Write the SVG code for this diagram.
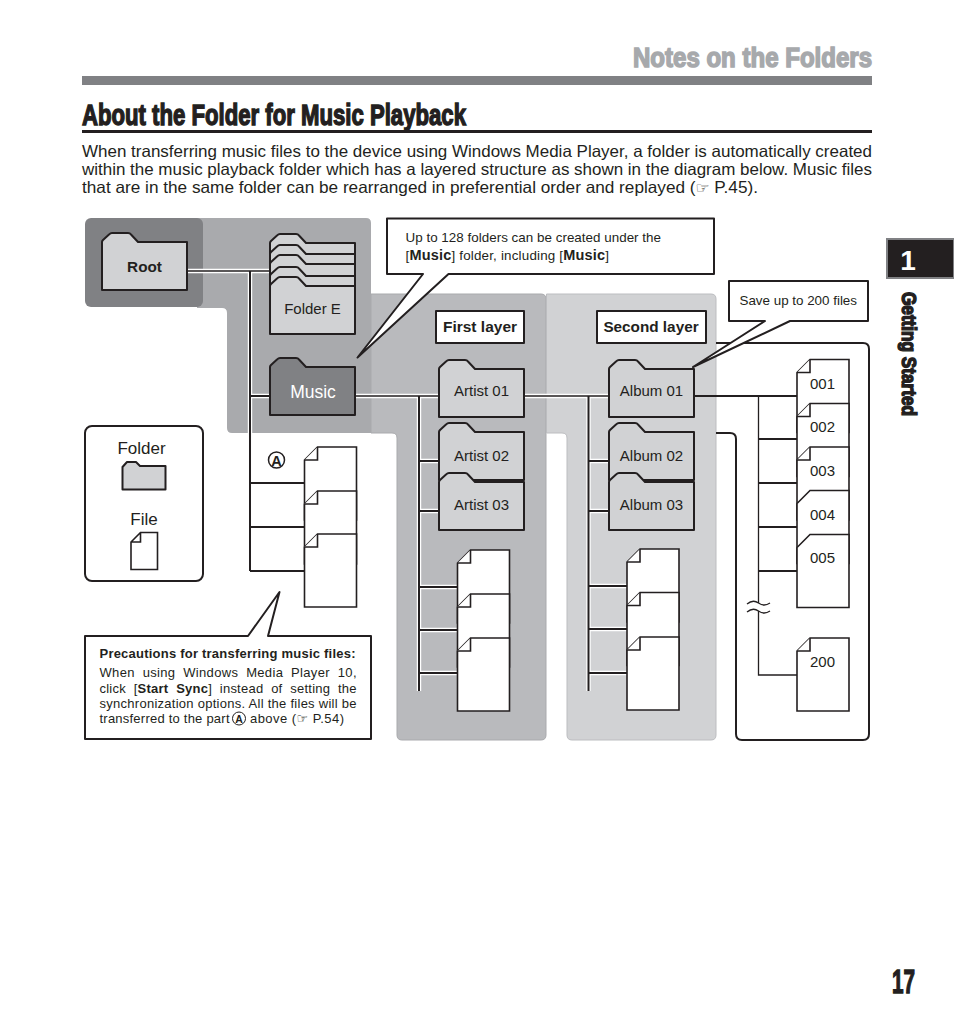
<svg xmlns="http://www.w3.org/2000/svg" width="954" height="1022" viewBox="0 0 954 1022">
<style>
text{font-family:"Liberation Sans",Arial,sans-serif;fill:#231f20}
.h{font-weight:bold;stroke-width:1.4;stroke:#231f20}
.body{font-size:16.5px}
.lab{font-size:15px;text-anchor:middle}
.s{font-size:13.4px}
.p{font-size:13px}
.b{font-weight:bold}
.sh{fill:#fff;stroke:#231f20;stroke-width:2;stroke-linejoin:round}
.fo{fill:#d1d2d4;stroke:#231f20;stroke-width:2;stroke-linejoin:round}
.dk{fill:#808184;stroke:#231f20;stroke-width:2;stroke-linejoin:round}
.fi{fill:#fff;stroke:#231f20;stroke-width:1.6;stroke-linejoin:miter}
.halo{fill:none;stroke:#fff;stroke-width:4.4}
.ln{fill:none;stroke:#231f20;stroke-width:2}
.tn{fill:none;stroke:#231f20;stroke-width:1.3}
</style>
<defs>
<path id="fold" d="M0,9V57H85V9H36L29,1.500Q28,0 26,0H10Q8.500,0 7,1.500L1,7Q0,8 0,9Z"/>
<path id="file" d="M0,13V73H52V0H13Z"/>
<path id="ear" d="M0,13H13V0"/>
</defs>

<g id="page-header">
<text x="633" y="67" textLength="239" lengthAdjust="spacingAndGlyphs" font-size="27" font-weight="bold" stroke="#a7a9ac" stroke-width="1.500" style="fill:#a7a9ac">Notes on the Folders</text>
<rect x="82" y="76" width="790" height="9" fill="#808184"/>
<text class="h" x="82" y="125" textLength="384" lengthAdjust="spacingAndGlyphs" font-size="29">About the Folder for Music Playback</text>
<rect x="82" y="130" width="790" height="3" fill="#231f20"/>
<text class="body" x="82" y="157" textLength="790" lengthAdjust="spacingAndGlyphs">When transferring music files to the device using Windows Media Player, a folder is automatically created</text>
<text class="body" x="82" y="175" textLength="790" lengthAdjust="spacingAndGlyphs">within the music playback folder which has a layered structure as shown in the diagram below. Music files</text>
<text class="body" x="82" y="193" textLength="676" lengthAdjust="spacingAndGlyphs">that are in the same folder can be rearranged in preferential order and replayed (<tspan font-size="15" font-family="DejaVu Sans">☞</tspan> P.45).</text>
</g>

<g id="panels">
<path d="M202,218H366Q371,218 371,223V433H232Q227,433 227,428V313Q227,308 222,308H197V218Z" fill="#a9aaad"/>
<rect id="root-panel" x="85" y="218" width="118" height="89" rx="6" fill="#808184"/>
<path id="first-layer" d="M371,294H541Q546,294 546,299V735Q546,740 541,740H402Q397,740 397,735V438Q397,433 392,433H371Z" fill="#b9babd" stroke="#a9aaad" stroke-width="1"/>
<path id="second-layer" d="M546.500,294H711Q716,294 716,299V735Q716,740 711,740H572Q567,740 567,735V438Q567,433 562,433H546.500Z" fill="#d1d2d4" stroke="#bcbdc0" stroke-width="1"/>
<path id="files-panel" d="M716,343H863Q869,343 869,349V734Q869,740 863,740H742Q736,740 736,734V439Q736,433 730,433H716" fill="none" stroke="#231f20" stroke-width="2"/>
</g>

<g id="connectors">
<path class="halo" d="M187,271H270M250,271V433M250,396H270M355,396H439M419,396V691M419,461H439M419,511H439M419,587H457M419,630H457M419,673H457M524,396H609M588.500,396V691M588.500,461H609M588.500,511H609M588.500,586H627M588.500,629H627M588.500,673H627"/>
<path class="tn" d="M187,271H270"/>
<path class="ln" d="M250,271V571M250,396H270M250,483H304M250,527H304M250,571H304"/>
<path class="tn" d="M355,396H439"/>
<path class="ln" d="M419,396V691M419,461H439M419,511H439M419,587H457M419,630H457M419,673H457"/>
<path class="tn" d="M524,396H609"/>
<path class="ln" d="M588.500,396V691M588.500,461H609M588.500,511H609M588.500,586H627M588.500,629H627M588.500,673H627"/>
<path class="ln" d="M693,396H797M758,439H797M758,483H797M758,527H797M758,571H797"/>
<path class="tn" d="M758.500,396V603M758.500,611V675H797"/>
<path id="break" class="tn" d="M747,604Q753,599 758.500,603T770,603M747,612Q753,607 758.500,611T770,611"/>
</g>

<g id="folder-root"><use href="#fold" class="fo" x="102" y="233"/><text x="144.500" y="272" text-anchor="middle" font-size="15.300" class="b">Root</text></g>
<g id="folder-a"><use href="#fold" class="fo" x="270" y="234"/></g>
<g id="folder-b"><use href="#fold" class="fo" x="270" y="245"/></g>
<g id="folder-c"><use href="#fold" class="fo" x="270" y="255"/></g>
<g id="folder-d"><use href="#fold" class="fo" x="270" y="267"/></g>
<g id="folder-e"><use href="#fold" class="fo" x="270" y="277"/><text class="lab" x="312.500" y="314">Folder E</text></g>
<g id="folder-music"><use href="#fold" class="dk" x="270" y="358"/><text class="lab" x="313" y="398" style="fill:#fff;font-size:17.500px">Music</text></g>
<g id="artist-01"><use href="#fold" class="fo" x="439" y="360"/><text class="lab" x="481.500" y="396">Artist 01</text></g>
<g id="artist-02"><use href="#fold" class="fo" x="439" y="423"/><text class="lab" x="481.500" y="461">Artist 02</text></g>
<g id="artist-03"><use href="#fold" class="fo" x="439" y="473"/><text class="lab" x="481.500" y="510">Artist 03</text></g>
<g id="album-01"><use href="#fold" class="fo" x="609" y="360"/><text class="lab" x="651.500" y="396">Album 01</text></g>
<g id="album-02"><use href="#fold" class="fo" x="609" y="423"/><text class="lab" x="651.500" y="461">Album 02</text></g>
<g id="album-03"><use href="#fold" class="fo" x="609" y="473"/><text class="lab" x="651.500" y="510">Album 03</text></g>

<g id="files-a">
<use href="#file" class="fi" x="304.500" y="447"/><use href="#ear" class="fi" x="304.500" y="447"/>
<use href="#file" class="fi" x="304.500" y="491"/><use href="#ear" class="fi" x="304.500" y="491"/>
<use href="#file" class="fi" x="304.500" y="534"/><use href="#ear" class="fi" x="304.500" y="534"/>
<circle cx="276.500" cy="460" r="8" fill="#fff" stroke="#231f20" stroke-width="1.500"/>
<text x="276.500" y="465.500" text-anchor="middle" font-size="14.500" class="b">A</text>
</g>
<g id="files-first">
<use href="#file" class="fi" x="457.500" y="550"/><use href="#ear" class="fi" x="457.500" y="550"/>
<use href="#file" class="fi" x="457.500" y="594"/><use href="#ear" class="fi" x="457.500" y="594"/>
<use href="#file" class="fi" x="457.500" y="638"/><use href="#ear" class="fi" x="457.500" y="638"/>
</g>
<g id="files-second">
<use href="#file" class="fi" x="627" y="549"/><use href="#ear" class="fi" x="627" y="549"/>
<use href="#file" class="fi" x="627" y="592.500"/><use href="#ear" class="fi" x="627" y="592.500"/>
<use href="#file" class="fi" x="627" y="637"/><use href="#ear" class="fi" x="627" y="637"/>
</g>
<g id="file-001"><use href="#file" class="fi" x="797" y="359.500"/><use href="#ear" class="fi" x="797" y="359.500"/><text class="lab" x="822.500" y="389">001</text></g>
<g id="file-002"><use href="#file" class="fi" x="797" y="403.500"/><use href="#ear" class="fi" x="797" y="403.500"/><text class="lab" x="822.500" y="432">002</text></g>
<g id="file-003"><use href="#file" class="fi" x="797" y="447"/><use href="#ear" class="fi" x="797" y="447"/><text class="lab" x="822.500" y="476">003</text></g>
<g id="file-004"><use href="#file" class="fi" x="797" y="490.500"/><text class="lab" x="822.500" y="520">004</text></g>
<g id="file-005"><use href="#file" class="fi" x="797" y="534.500"/><text class="lab" x="822.500" y="563">005</text></g>
<g id="file-200"><use href="#file" class="fi" x="797" y="638"/><use href="#ear" class="fi" x="797" y="638"/><text class="lab" x="822.500" y="667">200</text></g>

<g id="label-first"><rect x="436" y="311" width="88" height="32" class="sh"/><text x="480" y="332" text-anchor="middle" font-size="15.500" class="b">First layer</text></g>
<g id="label-second"><rect x="597" y="311" width="109" height="32" class="sh"/><text x="651" y="332" text-anchor="middle" font-size="15.300" class="b">Second layer</text></g>

<g id="callout-128">
<path class="sh" d="M387,218.500H714V274H448.500L357.500,357.500L423,274H387Z"/>
<text class="s" x="405.500" y="242" textLength="255.500">Up to 128 folders can be created under the</text>
<text class="s" x="405.500" y="260" textLength="203.500">[<tspan class="b" font-size="14.500">Music</tspan>] folder, including [<tspan class="b" font-size="14.500">Music</tspan>]</text>
</g>
<g id="callout-200">
<path class="sh" d="M729,281H868V321H790L693,367L765,321H729Z"/>
<text class="s" x="739.500" y="305" textLength="117.500">Save up to 200 files</text>
</g>

<g id="legend">
<rect x="85" y="426" width="118" height="155" rx="7" fill="#fff" stroke="#231f20" stroke-width="2"/>
<text x="141.500" y="454" text-anchor="middle" font-size="17">Folder</text>
<path class="fo" d="M122.500,489.500V467L127,462H136L140,466H165.500V489.500Z"/>
<text x="144" y="525" text-anchor="middle" font-size="17">File</text>
<path class="fi" d="M131,542V569.500H157.500V532.500H140.500ZM131,542H140.500V532.500"/>
</g>

<g id="callout-precautions">
<path class="sh" d="M85,636H248L279.500,592L268,636H371V739H85Z"/>
<text x="99.500" y="658" font-size="13" class="b" textLength="256">Precautions for transferring music files:</text>
<text class="p" x="99.500" y="677" textLength="257" xml:space="preserve">When  using  Windows  Media  Player  10,</text>
<text class="p" x="99.500" y="693" textLength="257" xml:space="preserve">click  [<tspan class="b">Start  Sync</tspan>]  instead  of  setting  the</text>
<text class="p" x="99.500" y="708" textLength="257">synchronization options. All the files will be</text>
<text class="p" x="99.500" y="723" textLength="130">transferred to the part</text>
<circle cx="239" cy="718.500" r="6.500" fill="#fff" stroke="#231f20" stroke-width="1"/>
<text x="239" y="722.500" text-anchor="middle" font-size="10.500" class="b">A</text>
<text class="p" x="250" y="723" textLength="94">above (<tspan font-size="13" font-family="DejaVu Sans">☞</tspan> P.54)</text>
</g>

<g id="side-tab">
<rect x="887" y="239" width="67" height="39" fill="#231f20" stroke="#808184" stroke-width="2"/>
<text x="908" y="270" text-anchor="middle" font-size="28" font-weight="bold" style="fill:#fff">1</text>
<text class="h" transform="translate(902,292) rotate(90)" textLength="124" lengthAdjust="spacingAndGlyphs" font-size="20">Getting Started</text>
</g>
<text id="page-number" class="h" x="892" y="993" font-size="34" textLength="23" lengthAdjust="spacingAndGlyphs">17</text>
</svg>
